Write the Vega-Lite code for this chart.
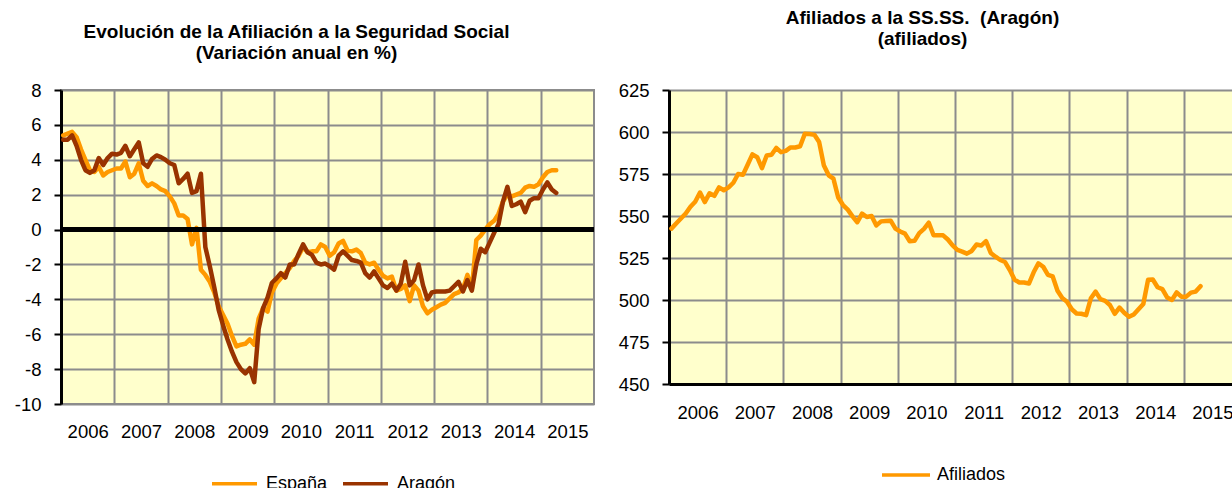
{
  "$schema": "https://vega.github.io/schema/vega-lite/v6.json",
  "background": "white",
  "padding": {"left": 13, "top": 8, "right": 0, "bottom": 0},
  "autosize": {"type": "pad"},
  "bounds": "flush",
  "spacing": 75,
  "config": {
    "font": "Liberation Sans",
    "axis": {"labelFont": "Liberation Sans", "labelFontSize": 18.5, "labelColor": "black", "title": null, "labelFlush": false, "labelOverlap": false, "gridColor": "#8C8C8C", "gridWidth": 2, "gridOpacity": 1},
    "legend": {"labelFont": "Liberation Sans", "labelFontSize": 18, "labelColor": "black"},
    "title": {"font": "Liberation Sans", "fontWeight": "bold", "color": "black"}
  },
  "resolve": {"scale": {"color": "independent"}, "legend": {"color": "independent"}},
  "datasets": {
    "serie": [
      {"t":2006.042,"España":5.4,"Aragón":5.15,"Afiliados":542.5},
      {"t":2006.125,"España":5.5,"Aragón":5.15,"Afiliados":545.5},
      {"t":2006.208,"España":5.6,"Aragón":5.4,"Afiliados":548.5},
      {"t":2006.292,"España":5.3,"Aragón":4.8,"Afiliados":551.5},
      {"t":2006.375,"España":4.6,"Aragón":4.0,"Afiliados":555.5},
      {"t":2006.458,"España":4.0,"Aragón":3.4,"Afiliados":558.5},
      {"t":2006.542,"España":3.4,"Aragón":3.25,"Afiliados":564.0},
      {"t":2006.625,"España":3.3,"Aragón":3.4,"Afiliados":558.3},
      {"t":2006.708,"España":3.6,"Aragón":4.1,"Afiliados":563.5},
      {"t":2006.792,"España":3.1,"Aragón":3.7,"Afiliados":562.0},
      {"t":2006.875,"España":3.3,"Aragón":4.1,"Afiliados":567.0},
      {"t":2006.958,"España":3.4,"Aragón":4.35,"Afiliados":565.3},
      {"t":2007.042,"España":3.5,"Aragón":4.3,"Afiliados":567.0},
      {"t":2007.125,"España":3.5,"Aragón":4.4,"Afiliados":569.8},
      {"t":2007.208,"España":3.9,"Aragón":4.8,"Afiliados":575.0},
      {"t":2007.292,"España":3.0,"Aragón":4.2,"Afiliados":574.5},
      {"t":2007.375,"España":3.2,"Aragón":4.6,"Afiliados":580.5},
      {"t":2007.458,"España":3.8,"Aragón":5.0,"Afiliados":586.7},
      {"t":2007.542,"España":2.8,"Aragón":3.8,"Afiliados":585.0},
      {"t":2007.625,"España":2.5,"Aragón":3.6,"Afiliados":578.5},
      {"t":2007.708,"España":2.65,"Aragón":4.05,"Afiliados":586.0},
      {"t":2007.792,"España":2.5,"Aragón":4.25,"Afiliados":586.5},
      {"t":2007.875,"España":2.3,"Aragón":4.15,"Afiliados":590.5},
      {"t":2007.958,"España":2.2,"Aragón":4.0,"Afiliados":588.0},
      {"t":2008.042,"España":1.9,"Aragón":3.8,"Afiliados":588.8},
      {"t":2008.125,"España":1.5,"Aragón":3.7,"Afiliados":590.8},
      {"t":2008.208,"España":0.8,"Aragón":2.65,"Afiliados":590.8},
      {"t":2008.292,"España":0.8,"Aragón":2.9,"Afiliados":591.5},
      {"t":2008.375,"España":0.6,"Aragón":3.2,"Afiliados":599.0},
      {"t":2008.458,"España":-0.85,"Aragón":2.1,"Afiliados":598.8},
      {"t":2008.542,"España":0.1,"Aragón":2.2,"Afiliados":598.3},
      {"t":2008.625,"España":-2.3,"Aragón":3.2,"Afiliados":594.0},
      {"t":2008.708,"España":-2.6,"Aragón":-1.0,"Afiliados":580.0},
      {"t":2008.792,"España":-3.0,"Aragón":-2.1,"Afiliados":574.2},
      {"t":2008.875,"España":-3.6,"Aragón":-3.3,"Afiliados":572.2},
      {"t":2008.958,"España":-4.4,"Aragón":-4.6,"Afiliados":561.0},
      {"t":2009.042,"España":-4.9,"Aragón":-5.5,"Afiliados":556.5},
      {"t":2009.125,"España":-5.4,"Aragón":-6.3,"Afiliados":553.8},
      {"t":2009.208,"España":-6.1,"Aragón":-7.0,"Afiliados":549.8},
      {"t":2009.292,"España":-6.7,"Aragón":-7.6,"Afiliados":546.3},
      {"t":2009.375,"España":-6.6,"Aragón":-8.0,"Afiliados":551.4},
      {"t":2009.458,"España":-6.55,"Aragón":-8.25,"Afiliados":549.4},
      {"t":2009.542,"España":-6.3,"Aragón":-7.95,"Afiliados":550.0},
      {"t":2009.625,"España":-6.6,"Aragón":-8.75,"Afiliados":544.4},
      {"t":2009.708,"España":-5.1,"Aragón":-5.7,"Afiliados":546.8},
      {"t":2009.792,"España":-4.5,"Aragón":-4.5,"Afiliados":547.0},
      {"t":2009.875,"España":-4.7,"Aragón":-3.9,"Afiliados":547.2},
      {"t":2009.958,"España":-3.6,"Aragón":-3.05,"Afiliados":542.5},
      {"t":2010.042,"España":-3.1,"Aragón":-2.8,"Afiliados":540.8},
      {"t":2010.125,"España":-2.8,"Aragón":-2.5,"Afiliados":539.5},
      {"t":2010.208,"España":-2.5,"Aragón":-2.75,"Afiliados":535.0},
      {"t":2010.292,"España":-2.2,"Aragón":-2.0,"Afiliados":535.2},
      {"t":2010.375,"España":-1.8,"Aragón":-2.0,"Afiliados":539.8},
      {"t":2010.458,"España":-1.5,"Aragón":-1.4,"Afiliados":542.3},
      {"t":2010.542,"España":-1.0,"Aragón":-0.85,"Afiliados":546.0},
      {"t":2010.625,"España":-1.3,"Aragón":-1.3,"Afiliados":538.5},
      {"t":2010.708,"España":-1.25,"Aragón":-1.45,"Afiliados":538.5},
      {"t":2010.792,"España":-1.25,"Aragón":-1.9,"Afiliados":538.5},
      {"t":2010.875,"España":-0.85,"Aragón":-2.0,"Afiliados":536.0},
      {"t":2010.958,"España":-1.0,"Aragón":-1.95,"Afiliados":532.5},
      {"t":2011.042,"España":-1.5,"Aragón":-2.1,"Afiliados":529.8},
      {"t":2011.125,"España":-1.3,"Aragón":-2.3,"Afiliados":528.8},
      {"t":2011.208,"España":-0.8,"Aragón":-1.5,"Afiliados":527.6},
      {"t":2011.292,"España":-0.65,"Aragón":-1.25,"Afiliados":529.2},
      {"t":2011.375,"España":-1.2,"Aragón":-1.5,"Afiliados":533.0},
      {"t":2011.458,"España":-1.25,"Aragón":-1.75,"Afiliados":532.4},
      {"t":2011.542,"España":-1.15,"Aragón":-1.8,"Afiliados":535.0},
      {"t":2011.625,"España":-1.35,"Aragón":-1.9,"Afiliados":528.0},
      {"t":2011.708,"España":-1.9,"Aragón":-2.5,"Afiliados":525.8},
      {"t":2011.792,"España":-2.0,"Aragón":-2.75,"Afiliados":523.8},
      {"t":2011.875,"España":-1.9,"Aragón":-2.4,"Afiliados":522.6},
      {"t":2011.958,"España":-2.3,"Aragón":-2.8,"Afiliados":517.8},
      {"t":2012.042,"España":-2.65,"Aragón":-3.2,"Afiliados":512.0},
      {"t":2012.125,"España":-2.8,"Aragón":-3.35,"Afiliados":510.4},
      {"t":2012.208,"España":-2.7,"Aragón":-3.1,"Afiliados":510.4},
      {"t":2012.292,"España":-3.5,"Aragón":-3.5,"Afiliados":509.8},
      {"t":2012.375,"España":-3.4,"Aragón":-3.1,"Afiliados":516.5},
      {"t":2012.458,"España":-3.2,"Aragón":-1.85,"Afiliados":521.8},
      {"t":2012.542,"España":-4.1,"Aragón":-3.2,"Afiliados":519.8},
      {"t":2012.625,"España":-3.2,"Aragón":-2.9,"Afiliados":515.0},
      {"t":2012.708,"España":-3.5,"Aragón":-2.0,"Afiliados":514.0},
      {"t":2012.792,"España":-4.4,"Aragón":-3.2,"Afiliados":505.5},
      {"t":2012.875,"España":-4.8,"Aragón":-4.0,"Afiliados":501.2},
      {"t":2012.958,"España":-4.6,"Aragón":-3.6,"Afiliados":499.0},
      {"t":2013.042,"España":-4.45,"Aragón":-3.55,"Afiliados":494.5},
      {"t":2013.125,"España":-4.3,"Aragón":-3.55,"Afiliados":492.0},
      {"t":2013.208,"España":-4.2,"Aragón":-3.55,"Afiliados":491.8},
      {"t":2013.292,"España":-3.95,"Aragón":-3.5,"Afiliados":491.0},
      {"t":2013.375,"España":-3.7,"Aragón":-3.25,"Afiliados":501.0},
      {"t":2013.458,"España":-3.6,"Aragón":-3.0,"Afiliados":505.0},
      {"t":2013.542,"España":-3.4,"Aragón":-3.55,"Afiliados":500.5},
      {"t":2013.625,"España":-2.6,"Aragón":-2.9,"Afiliados":499.5},
      {"t":2013.708,"España":-3.4,"Aragón":-3.5,"Afiliados":497.0},
      {"t":2013.792,"España":-0.6,"Aragón":-2.0,"Afiliados":491.8},
      {"t":2013.875,"España":-0.35,"Aragón":-1.1,"Afiliados":495.5},
      {"t":2013.958,"España":0.0,"Aragón":-1.3,"Afiliados":492.4},
      {"t":2014.042,"España":0.3,"Aragón":-0.75,"Afiliados":490.0},
      {"t":2014.125,"España":0.5,"Aragón":-0.2,"Afiliados":491.4},
      {"t":2014.208,"España":0.9,"Aragón":0.3,"Afiliados":494.5},
      {"t":2014.292,"España":1.6,"Aragón":1.6,"Afiliados":497.6},
      {"t":2014.375,"España":2.0,"Aragón":2.45,"Afiliados":512.0},
      {"t":2014.458,"España":1.9,"Aragón":1.35,"Afiliados":512.2},
      {"t":2014.542,"España":2.0,"Aragón":1.45,"Afiliados":507.6},
      {"t":2014.625,"España":2.1,"Aragón":1.6,"Afiliados":506.5},
      {"t":2014.708,"España":2.4,"Aragón":1.0,"Afiliados":501.5},
      {"t":2014.792,"España":2.5,"Aragón":1.65,"Afiliados":500.0},
      {"t":2014.875,"España":2.45,"Aragón":1.8,"Afiliados":504.5},
      {"t":2014.958,"España":2.6,"Aragón":1.8,"Afiliados":502.0},
      {"t":2015.042,"España":3.0,"Aragón":2.3,"Afiliados":502.0},
      {"t":2015.125,"España":3.3,"Aragón":2.7,"Afiliados":504.4},
      {"t":2015.208,"España":3.4,"Aragón":2.3,"Afiliados":505.0},
      {"t":2015.292,"España":3.4,"Aragón":2.1,"Afiliados":508.2}
    ]
  },
  "hconcat": [
    {
      "width": 533,
      "height": 314,
      "title": {"text": ["Evolución de la Afiliación a la Seguridad Social", "(Variación anual en %)"], "fontSize": 19, "lineHeight": 21.5, "anchor": "middle", "dx": -31, "offset": 18},
      "view": {"fill": "#FFFFCC", "stroke": "#8C8C8C", "strokeWidth": 2},
      "data": {"name": "serie"},
      "layer": [
        {
          "transform": [{"fold": ["España", "Aragón"], "as": ["serie", "valor"]}],
          "mark": {"type": "line", "strokeWidth": 4.5, "strokeJoin": "round", "strokeCap": "round"},
          "encoding": {
            "x": {"field": "t", "type": "quantitative",
                  "scale": {"domain": [2006, 2016], "nice": false, "zero": false},
                  "axis": {"values": [2006,2007,2008,2009,2010,2011,2012,2013,2014,2015], "labelExpr": "'' + datum.value", "grid": true, "domain": false, "ticks": false, "labelOffset": 26.7, "labelPadding": 18, "labelOverlap": false}},
            "y": {"field": "valor", "type": "quantitative",
                  "scale": {"domain": [-10, 8], "nice": false},
                  "axis": {"values": [-10,-8,-6,-4,-2,0,2,4,6,8], "labelExpr": "'' + datum.value", "labelOverlap": false, "labelSeparation": 0, "grid": true, "domain": true, "domainColor": "black", "domainWidth": 3, "ticks": true, "tickColor": "black", "tickWidth": 2, "tickSize": 7, "labelPadding": 13}},
            "color": {"field": "serie", "type": "nominal",
                      "scale": {"domain": ["España", "Aragón"], "range": ["#FF9900", "#993300"]},
                      "legend": {"orient": "none", "legendX": 149, "legendY": 369, "direction": "horizontal", "title": null, "symbolType": "stroke", "symbolSize": 2025, "symbolStrokeWidth": 3.5, "labelOffset": 7, "columnPadding": 8}}
          }
        },
        {
          "mark": {"type": "rule", "color": "black", "strokeWidth": 4},
          "encoding": {"y": {"datum": 0, "type": "quantitative",
                  "scale": {"domain": [-10, 8], "nice": false},
                  "axis": {"values": [-10,-8,-6,-4,-2,0,2,4,6,8], "labelExpr": "'' + datum.value", "labelOverlap": false, "labelSeparation": 0, "grid": true, "domain": true, "domainColor": "black", "domainWidth": 3, "ticks": true, "tickColor": "black", "tickWidth": 2, "tickSize": 7, "labelPadding": 13}}}
        }
      ]
    },
    {
      "width": 564,
      "height": 294,
      "title": {"text": ["Afiliados a la SS.SS. \u00a0(Aragón)", "(afiliados)"], "fontSize": 19, "lineHeight": 21.5, "anchor": "middle", "dx": -28.5, "offset": 32},
      "view": {"fill": "#FFFFCC", "stroke": null},
      "data": {"name": "serie"},
      "mark": {"type": "line", "strokeWidth": 4.5, "strokeJoin": "round", "strokeCap": "round"},
      "encoding": {
        "x": {"field": "t", "type": "quantitative",
              "scale": {"domain": [2006, 2015.86], "nice": false, "zero": false},
              "axis": {"values": [2006,2007,2008,2009,2010,2011,2012,2013,2014,2015], "labelExpr": "'' + datum.value", "labelOverlap": false, "grid": true, "domain": true, "domainColor": "black", "domainWidth": 3, "ticks": false, "labelOffset": 28.6, "labelPadding": 19}},
        "y": {"field": "Afiliados", "type": "quantitative",
              "scale": {"domain": [450, 625], "nice": false, "zero": false},
              "axis": {"values": [450,475,500,525,550,575,600,625], "labelExpr": "'' + datum.value", "labelOverlap": false, "grid": true, "domain": true, "domainColor": "black", "domainWidth": 3, "ticks": true, "tickColor": "black", "tickWidth": 2, "tickSize": 7, "labelPadding": 13}},
        "color": {"datum": "Afiliados", "type": "nominal",
                  "scale": {"range": ["#FF9900"]},
                  "legend": {"orient": "none", "legendX": 211, "legendY": 359, "direction": "horizontal", "title": null, "symbolType": "stroke", "symbolSize": 2304, "symbolStrokeWidth": 3.5, "labelOffset": 5}}
      }
    }
  ]
}
